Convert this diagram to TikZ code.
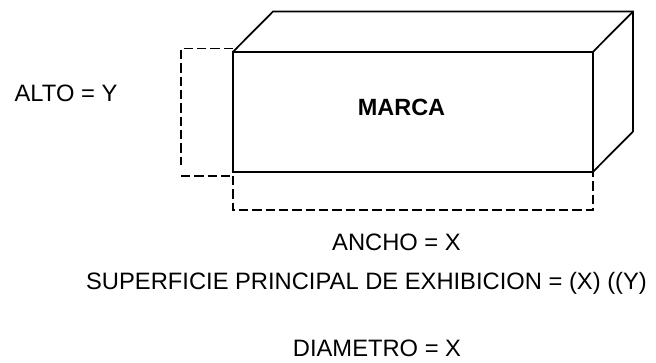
\documentclass[tikz,border=0pt]{standalone}
\usepackage{fontspec}
\setmainfont{Liberation Sans}
\usetikzlibrary{calc}
\tikzstyle{edge} = [draw, black, line width=1.3pt, line join=miter]
\tikzstyle{guide} = [draw, black, line width=1.4pt, dash pattern=on 7pt off 3pt]
\tikzstyle{label} = [font=\fontsize{17.8pt}{20pt}\selectfont, inner sep=0pt, anchor=base]
\tikzstyle{brand} = [font=\fontsize{17.6pt}{20pt}\selectfont\bfseries, inner sep=0pt, anchor=base]

\begin{document}
\begin{tikzpicture}[x=0.75pt, y=-0.75pt]
	\useasboundingbox (0,0) rectangle (656,362);
	% Front face and depth corners
	\coordinate (frontNW) at (233,51.8);
	\coordinate (frontNE) at (593,51.8);
	\coordinate (frontSE) at (593,171.8);
	\coordinate (frontSW) at (233,171.8);
	\coordinate (backNW) at (273,11.5);
	\coordinate (backNE) at (633,11.5);
	\coordinate (backSE) at (633,131.5);
	%
	\path [edge] (frontNW) -- (frontNE) -- (frontSE) -- (frontSW) -- cycle;
	\path [edge] (frontNW) -- (backNW) -- (backNE) -- (backSE) -- (frontSE);
	\path [edge] (frontNE) -- (backNE);
	% Height guide
	\coordinate (altoTop) at (181,48.5);
	\coordinate (altoEnd) at (181,165);
	\coordinate (altoLow) at (181,176);
	\coordinate (altoLowEnd) at (233,176);
	\path [guide] (frontNW |- altoTop) -- (altoTop) -- (altoEnd);
	\path [guide] (altoLow) -- (altoLowEnd);
	% Width guide
	\coordinate (anchoWest) at (233,210);
	\coordinate (anchoEast) at (593,210);
	\path [guide] (altoLowEnd) -- (anchoWest) -- (anchoEast) -- (frontSE);
	% Labels
	\node [brand] (marca) at (401.5,115) {MARCA};
	\node [label] (alto) at (66,101.5) {ALTO = Y};
	\node [label] (ancho) at (396.5,250) {ANCHO = X};
	\node [label] (superficie) at (366.5,289) {SUPERFICIE PRINCIPAL DE EXHIBICION = (X) ((Y)};
	\node [label] (diametro) at (377,356.5) {DIAMETRO = X};
\end{tikzpicture}
\end{document}
